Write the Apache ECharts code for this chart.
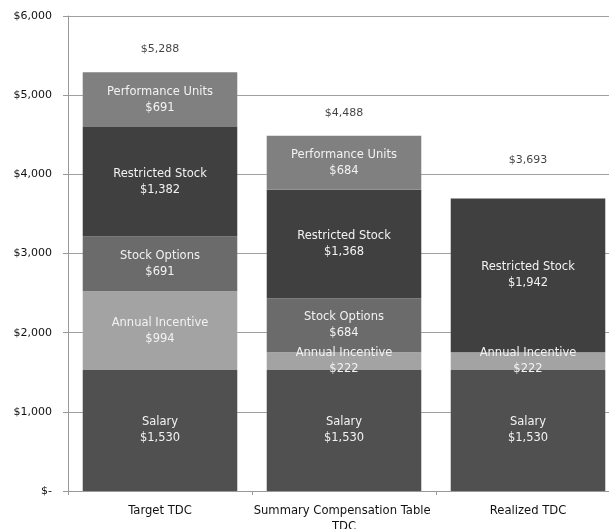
<!DOCTYPE html>
<html>
<head>
<meta charset="utf-8">
<script src="https://cdn.jsdelivr.net/npm/echarts@6/dist/echarts.min.js"></script>
<style>
html,body{margin:0;padding:0;background:#fff;}
#chart{width:609px;height:529px;}
</style>
</head>
<body>
<div id="chart"></div>
<script>
var categories = ['Target TDC', 'Summary Compensation Table TDC', 'Realized TDC'];
var salary = [1530, 1530, 1530];
var annualIncentive = [994, 222, 222];
var stockOptions = [691, 684, null];
var restrictedStock = [1382, 1368, 1942];
var performanceUnits = [691, 684, null];
var totals = [5288, 4488, 3693];
var yTicks = [0, 1000, 2000, 3000, 4000, 5000, 6000];

var FONT = 'DejaVu Sans';
function money(v) {
  if (v === 0) return '$-';
  return '$' + String(Math.round(v)).replace(/\B(?=(\d{3})+(?!\d))/g, ',');
}

var segs = [
  {name: 'Salary', data: salary, color: '#505050'},
  {name: 'Annual Incentive', data: annualIncentive, color: '#a3a3a3'},
  {name: 'Stock Options', data: stockOptions, color: '#6b6b6b'},
  {name: 'Restricted Stock', data: restrictedStock, color: '#404040'},
  {name: 'Performance Units', data: performanceUnits, color: '#808080'}
];

var series = segs.map(function (s) {
  return {
    name: s.name,
    type: 'bar',
    stack: 'total',
    barCategoryGap: '16%',
    data: s.data,
    itemStyle: {color: s.color},
    label: {
      show: true,
      position: 'inside',
      color: '#f2f2f2',
      fontFamily: FONT,
      fontSize: 11.5,
      lineHeight: 16,
      formatter: function (p) {
        if (p.value == null) return '';
        return p.seriesName + '\n' + money(p.value);
      }
    }
  };
});

var lifts = [23, 23, 38];
series.push({
  name: 'Total',
  type: 'scatter',
  symbolSize: 1,
  itemStyle: {color: 'rgba(0,0,0,0)'},
  silent: true,
  z: 5,
  data: totals.map(function (v, i) {
    return {value: v, label: {offset: [0, -lifts[i]]}};
  }),
  label: {
    show: true,
    position: 'inside',
    color: '#111',
    fontFamily: FONT,
    fontSize: 11,
    formatter: function (p) { return money(p.value); }
  }
});

var chart = echarts.init(document.getElementById('chart'), null, {renderer: 'canvas'});
chart.setOption({
  animation: false,
  backgroundColor: '#ffffff',
  grid: {left: 68, right: -11, top: 16, bottom: 38, containLabel: false, outerBoundsMode: 'none'},
  xAxis: {
    type: 'category',
    data: categories,
    axisLine: {lineStyle: {color: '#999', width: 1}},
    axisTick: {show: true, alignWithLabel: false, length: 4, lineStyle: {color: '#999'}},
    axisLabel: {
      color: '#111', fontFamily: FONT, fontSize: 11.6, margin: 12,
      lineHeight: 16, width: 184, overflow: 'break', interval: 0
    }
  },
  yAxis: {
    type: 'value',
    min: yTicks[0],
    max: yTicks[yTicks.length - 1],
    interval: yTicks[1] - yTicks[0],
    axisLine: {show: true, lineStyle: {color: '#999', width: 1}},
    axisTick: {show: true, length: 5, lineStyle: {color: '#999'}},
    splitLine: {show: true, lineStyle: {color: '#a0a0a0', width: 1}},
    axisLabel: {
      color: '#111', fontFamily: FONT, fontSize: 11, margin: 16,
      formatter: function (v) { return money(v); }
    }
  },
  series: series
});
</script>
</body>
</html>
